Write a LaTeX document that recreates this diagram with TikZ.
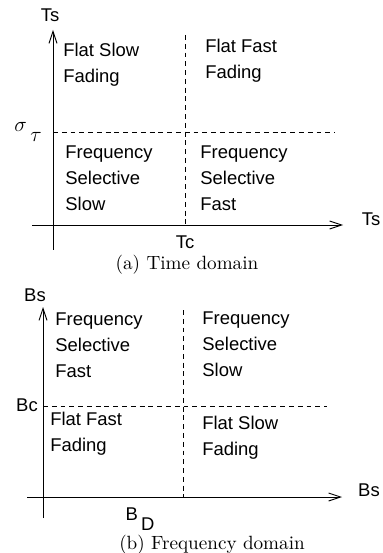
\documentclass[tikz,border=0pt]{standalone}
\usepackage{fontspec}
\newfontfamily\lblfont{Liberation Sans}
\usetikzlibrary{arrows.meta}

\begin{document}
\begin{tikzpicture}[
  x=0.02cm, y=-0.02cm,
  lbl/.style={font=\lblfont\fontsize{10.5}{14.8}\selectfont},
  region/.style={lbl, align=left, anchor=west, inner sep=0pt},
  axis/.style={-{Straight Barb[length=2.4mm,width=1.6mm]}, line width=0.5pt},
  guide/.style={line width=0.5pt, dash pattern=on 2.8pt off 2.2pt},
  caption/.style={font=\fontsize{10.9}{13}\selectfont}
]
\useasboundingbox (0,0) rectangle (382,553);

% (a) time domain
\coordinate (a-bot) at (53,250);
\coordinate (a-top) at (53,30);
\coordinate (a-left) at (32,225);
\coordinate (a-right) at (343,225);
\coordinate (a-sig) at (53,132);
\coordinate (a-sig-end) at (335,132);
\coordinate (a-tc-top) at (185,35);
\coordinate (a-tc) at (185,225);

\draw[axis] (a-bot) -- (a-top);
\draw[axis] (a-left) -- (a-right);
\draw[guide] (a-sig) -- (a-sig-end);
\draw[guide] (a-tc-top) -- (a-tc);

\node[lbl] (a-ts-y) at (50,15) {Ts};
\node[lbl] (a-ts-x) at (371,219) {Ts};
\node[font=\fontsize{12.5}{14}\selectfont] (a-sigma) at (28,132) {$\sigma$\,\raisebox{-1.0ex}{$\tau$}};
\node[lbl] (a-tc-lbl) at (185,242) {Tc};

\node[region] (a-flat-slow) at (63,65) {Flat Slow\\Fading};
\node[region] (a-flat-fast) at (205,61) {Flat Fast\\Fading};
\node[region] (a-sel-slow) at (65,178) {Frequency\\Selective\\Slow};
\node[region] (a-sel-fast) at (200,178) {Frequency\\Selective\\Fast};

\node[caption] (a-cap) at (187,265) {(a) Time domain};

% (b) frequency domain
\coordinate (b-bot) at (43,518);
\coordinate (b-top) at (43,307);
\coordinate (b-left) at (27,497);
\coordinate (b-right) at (342,497);
\coordinate (b-bc) at (43,406);
\coordinate (b-bc-end) at (327,406);
\coordinate (b-bd-top) at (183,310);
\coordinate (b-bd) at (183,497);

\draw[axis] (b-bot) -- (b-top);
\draw[axis] (b-left) -- (b-right);
\draw[guide] (b-bc) -- (b-bc-end);
\draw[guide] (b-bd-top) -- (b-bd);

\node[lbl] (b-bs-y) at (35,295) {Bs};
\node[lbl] (b-bs-x) at (369,490) {Bs};
\node[lbl] (b-bc-lbl) at (27,405) {Bc};
\node[lbl] (b-bd-lbl) at (140,519) {B\,\raisebox{-1.0ex}{D}};

\node[region] (b-sel-fast) at (55,345) {Frequency\\Selective\\Fast};
\node[region] (b-sel-slow) at (202,344) {Frequency\\Selective\\Slow};
\node[region] (b-flat-fast) at (50,434) {Flat Fast\\Fading};
\node[region] (b-flat-slow) at (202,438) {Flat Slow\\Fading};

\node[caption] (b-cap) at (212,545) {(b) Frequency domain};
\end{tikzpicture}
\end{document}
